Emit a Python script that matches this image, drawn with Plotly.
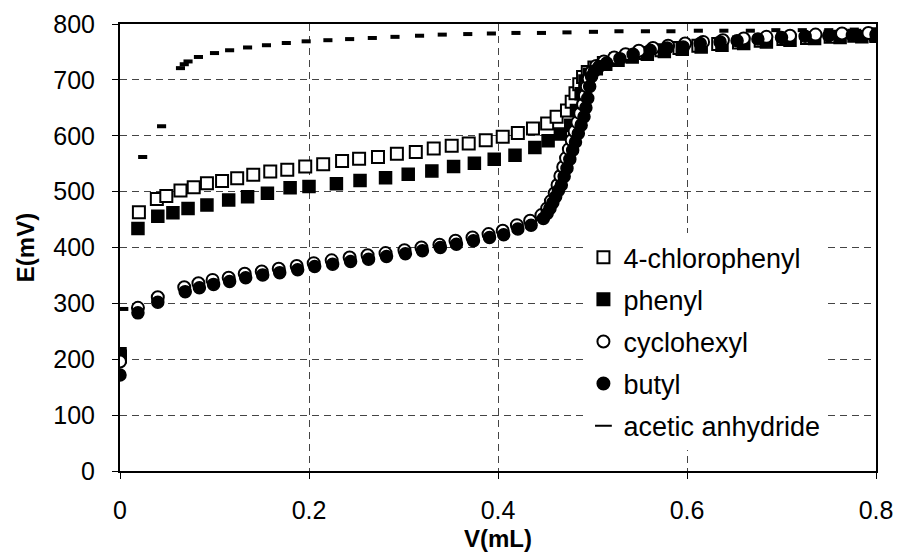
import plotly.graph_objects as go

# ---- data ----
chloro_V = [0.000, 0.020, 0.039, 0.049, 0.064, 0.078, 0.092, 0.108, 0.124, 0.141,
            0.159, 0.177, 0.196, 0.215, 0.235, 0.253, 0.273, 0.293, 0.313, 0.332,
            0.351, 0.369, 0.387, 0.405, 0.421, 0.437, 0.452, 0.462, 0.473, 0.478,
            0.482, 0.486, 0.490, 0.495, 0.502, 0.512, 0.525, 0.540, 0.556, 0.573,
            0.592, 0.612, 0.633, 0.655, 0.678, 0.702, 0.727, 0.752, 0.777, 0.800]
chloro_E = [205, 463, 487, 492, 502, 508, 515, 519, 524, 530,
            536, 539, 545, 549, 555, 559, 562, 568, 571, 577,
            582, 586, 592, 598, 605, 613, 622, 634, 645, 661,
            676, 692, 705, 714, 722, 730, 737, 743, 748, 753,
            757, 761, 764, 767, 770, 773, 775, 777, 779, 781]

phenyl_V = [0.000, 0.019, 0.040, 0.056, 0.072, 0.092, 0.115, 0.135, 0.156, 0.180,
            0.200, 0.229, 0.254, 0.281, 0.305, 0.330, 0.353, 0.375, 0.396, 0.418,
            0.439, 0.453, 0.466, 0.477, 0.483, 0.488, 0.492, 0.497, 0.504, 0.514,
            0.527, 0.542, 0.558, 0.576, 0.595, 0.615, 0.637, 0.660, 0.684, 0.709,
            0.735, 0.762, 0.785, 0.800]
phenyl_E = [210, 434, 456, 462, 470, 476, 485, 491, 497, 507,
            509, 514, 520, 525, 531, 537, 545, 551, 558, 565,
            579, 591, 603, 619, 645, 675, 698, 710, 720, 728,
            735, 741, 746, 751, 755, 759, 762, 765, 768, 771,
            774, 776, 777, 778]

cyclo_V = [0.000, 0.019, 0.040, 0.068, 0.083, 0.098, 0.115, 0.132, 0.150, 0.168,
           0.187, 0.205, 0.224, 0.243, 0.262, 0.281, 0.301, 0.319, 0.338, 0.355,
           0.373, 0.390, 0.405, 0.420, 0.434, 0.446, 0.452, 0.456, 0.460, 0.463,
           0.466, 0.469, 0.472, 0.475, 0.478, 0.481, 0.484, 0.487, 0.490, 0.492,
           0.494, 0.496, 0.499, 0.504, 0.512, 0.523, 0.535, 0.549, 0.564, 0.580,
           0.598, 0.617, 0.638, 0.660, 0.684, 0.709, 0.736, 0.764, 0.792]
cyclo_E = [196, 292, 311, 329, 336, 342, 346, 353, 357, 362,
           367, 372, 377, 382, 386, 390, 395, 400, 405, 412,
           418, 424, 430, 440, 448, 458, 470, 483, 497, 512,
           528, 544, 560, 576, 592, 608, 624, 640, 656, 672,
           688, 702, 714, 725, 733, 740, 746, 752, 757, 761,
           765, 768, 771, 774, 777, 779, 781, 783, 784]

butyl_V = [0.000, 0.019, 0.040, 0.069, 0.084, 0.099, 0.116, 0.133, 0.151, 0.169,
           0.188, 0.206, 0.225, 0.244, 0.263, 0.282, 0.302, 0.320, 0.339, 0.356,
           0.374, 0.391, 0.406, 0.421, 0.435, 0.448, 0.452, 0.455, 0.458, 0.461,
           0.464, 0.467, 0.470, 0.473, 0.476, 0.479, 0.482, 0.485, 0.488, 0.491,
           0.493, 0.495, 0.497, 0.499, 0.502, 0.507, 0.515, 0.529, 0.543, 0.561,
           0.579, 0.596, 0.614, 0.635, 0.653, 0.675, 0.700, 0.725, 0.750, 0.775,
           0.800]
butyl_E = [172, 283, 302, 321, 328, 334, 339, 346, 351, 355,
           360, 366, 370, 375, 379, 384, 389, 394, 400, 406,
           412, 418, 423, 433, 440, 452, 461, 470, 480, 491,
           502, 512, 527, 542, 558, 574, 589, 604, 619, 634,
           650, 667, 688, 706, 716, 724, 730, 738, 746, 753,
           757, 759, 765, 768, 770, 773, 776, 778, 779, 780,
           781]

acetic_V = [0.004, 0.024, 0.044, 0.064, 0.068, 0.072, 0.083, 0.100, 0.116, 0.135,
            0.155, 0.176, 0.197, 0.220, 0.243, 0.267, 0.291, 0.317, 0.341, 0.368,
            0.393, 0.419, 0.446, 0.473, 0.501, 0.528, 0.556, 0.583, 0.612, 0.639,
            0.667, 0.694, 0.722, 0.750, 0.777, 0.800]
acetic_E = [290, 562, 617, 721, 728, 733, 741, 748, 753, 758,
            762, 766, 769, 771, 773, 775, 777, 779, 781, 782,
            783, 784, 784, 785, 786, 787, 787, 787, 788, 788,
            788, 789, 789, 789, 790, 790]

series_names = ["4-chlorophenyl", "phenyl", "cyclohexyl", "butyl", "acetic anhydride"]
x_ticks = [0, 0.2, 0.4, 0.6, 0.8]
x_tick_labels = ["0", "0.2", "0.4", "0.6", "0.8"]
y_ticks = [0, 100, 200, 300, 400, 500, 600, 700, 800]

FONT = "Liberation Sans, Arial, sans-serif"

fig = go.Figure()
fig.add_trace(go.Scatter(x=chloro_V, y=chloro_E, mode="markers", name=series_names[0],
                         legendgroup="a",
                         marker=dict(symbol="square", size=12, color="white",
                                     line=dict(color="black", width=2))))
fig.add_trace(go.Scatter(x=phenyl_V, y=phenyl_E, mode="markers", name=series_names[1],
                         legendgroup="b",
                         marker=dict(symbol="square", size=12, color="black",
                                     line=dict(color="black", width=1.5))))
fig.add_trace(go.Scatter(x=cyclo_V, y=cyclo_E, mode="markers", name=series_names[2],
                         legendgroup="c",
                         marker=dict(symbol="circle", size=12, color="white",
                                     line=dict(color="black", width=2))))
fig.add_trace(go.Scatter(x=butyl_V, y=butyl_E, mode="markers", name=series_names[3],
                         legendgroup="d",
                         marker=dict(symbol="circle", size=12, color="black",
                                     line=dict(color="black", width=1.5))))
fig.add_trace(go.Scatter(x=acetic_V, y=acetic_E, mode="markers", name=series_names[4],
                         legendgroup="e",
                         marker=dict(symbol="line-ew", size=6.5, color="black",
                                     line=dict(color="black", width=4))))

grid = dict(showgrid=True, gridcolor="#444444", gridwidth=1, griddash="7px,5px")

fig.update_layout(
    width=899, height=552,
    margin=dict(l=120, r=23, t=24, b=81),
    paper_bgcolor="white", plot_bgcolor="white",
    font=dict(family=FONT, size=25, color="black"),
    showlegend=True,
    legend=dict(x=0.613, y=0.532, xanchor="left", yanchor="top",
                bgcolor="white", borderwidth=0, font=dict(size=27),
                traceorder="grouped", tracegroupgap=4, itemsizing="constant"),
    xaxis=dict(range=[0, 0.8], tickvals=x_ticks, ticktext=x_tick_labels,
               ticks="outside", ticklen=6, tickcolor="black", tickwidth=1,
               ticklabelstandoff=10, automargin=False,
               showline=True, linecolor="black", linewidth=2, mirror=True,
               zeroline=False,
               title=dict(text="<b>V(mL)</b>", font=dict(size=24), standoff=8),
               **grid),
    yaxis=dict(range=[0, 800], tickvals=y_ticks,
               ticks="outside", ticklen=6, tickcolor="black", tickwidth=1,
               ticklabelstandoff=12, automargin=False,
               showline=True, linecolor="black", linewidth=2, mirror=True,
               zeroline=False,
               title=dict(text="<b>E(mV)</b>", font=dict(size=24), standoff=12),
               **grid),
)

fig.write_html("out.html")
